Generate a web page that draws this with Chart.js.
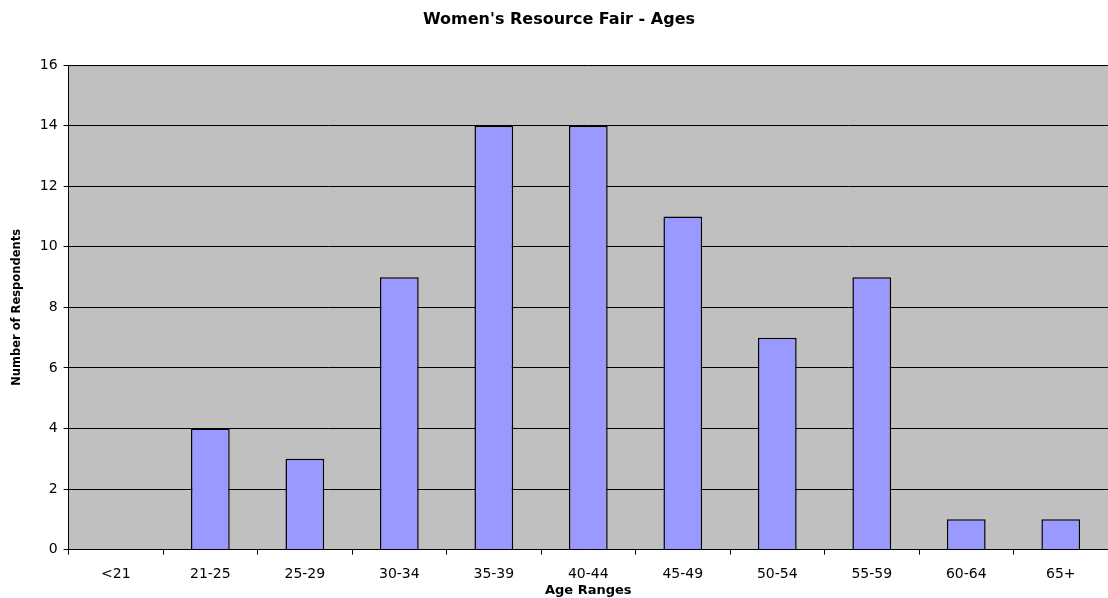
<!DOCTYPE html>
<html>
<head>
<meta charset="utf-8">
<script src="https://cdn.jsdelivr.net/npm/chart.js@4/dist/chart.umd.min.js"></script>
<style>
html,body{margin:0;padding:0;background:#fff;}
#wrap{width:1108px;height:598px;}
</style>
</head>
<body>
<div id="wrap"><canvas id="c" width="1108" height="598"></canvas></div>
<script>
const categories = ["<21","21-25","25-29","30-34","35-39","40-44","45-49","50-54","55-59","60-64","65+"];
const respondents = [0,4,3,9,14,14,11,7,9,1,1];
const chartTitle = "Women's Resource Fair - Ages";
const xTitle = "Age Ranges";
const yTitle = "Number of Respondents";
const FONT = 'DejaVu Sans, Verdana, sans-serif';

const plotBg = {
  id:'plotBg',
  beforeDraw(chart){
    const {ctx, chartArea:a} = chart;
    ctx.save();
    ctx.fillStyle = '#C0C0C0';
    ctx.fillRect(a.left, a.top, a.right-a.left, a.bottom-a.top);
    ctx.strokeStyle = '#808080';
    ctx.lineWidth = 1;
    ctx.beginPath();
    ctx.moveTo(a.left, a.top+0.5); ctx.lineTo(a.right, a.top+0.5);
    ctx.stroke();
    ctx.restore();
  }
};

new Chart(document.getElementById('c'), {
  type:'bar',
  data:{
    labels:categories,
    datasets:[{
      data:respondents,
      backgroundColor:'#9999FF',
      borderColor:'#000000',
      borderWidth:1.5,
      barPercentage:0.41,
      categoryPercentage:1.0
    }]
  },
  options:{
    responsive:false,
    animation:false,
    devicePixelRatio:1,
    layout:{padding:{left:10,right:0,top:10,bottom:0}},
    plugins:{
      legend:{display:false},
      tooltip:{enabled:false},
      title:{display:true,text:chartTitle,color:'#000',
        font:{family:FONT,size:16,weight:'bold'},
        padding:{top:0,bottom:36}}
    },
    scales:{
      x:{
        grid:{display:true,drawOnChartArea:false,drawTicks:true,tickLength:5,color:'#000',offset:true},
        border:{display:true,color:'#000',width:1},
        ticks:{color:'#000',font:{family:FONT,size:14},padding:11,maxRotation:0,autoSkip:false},
        title:{display:true,text:xTitle,color:'#000',font:{family:FONT,size:13,weight:'bold'},padding:{top:-11,bottom:0}}
      },
      y:{
        min:0,max:16,
        grid:{color:'#000',lineWidth:1,drawTicks:true,tickLength:5},
        border:{display:true,color:'#000',width:1},
        ticks:{stepSize:2,color:'#000',font:{family:FONT,size:14},padding:6},
        title:{display:true,text:yTitle,color:'#000',font:{family:FONT,size:11.5,weight:'bold'},padding:{top:0,bottom:10}}
      }
    }
  },
  plugins:[plotBg]
});
</script>
</body>
</html>
